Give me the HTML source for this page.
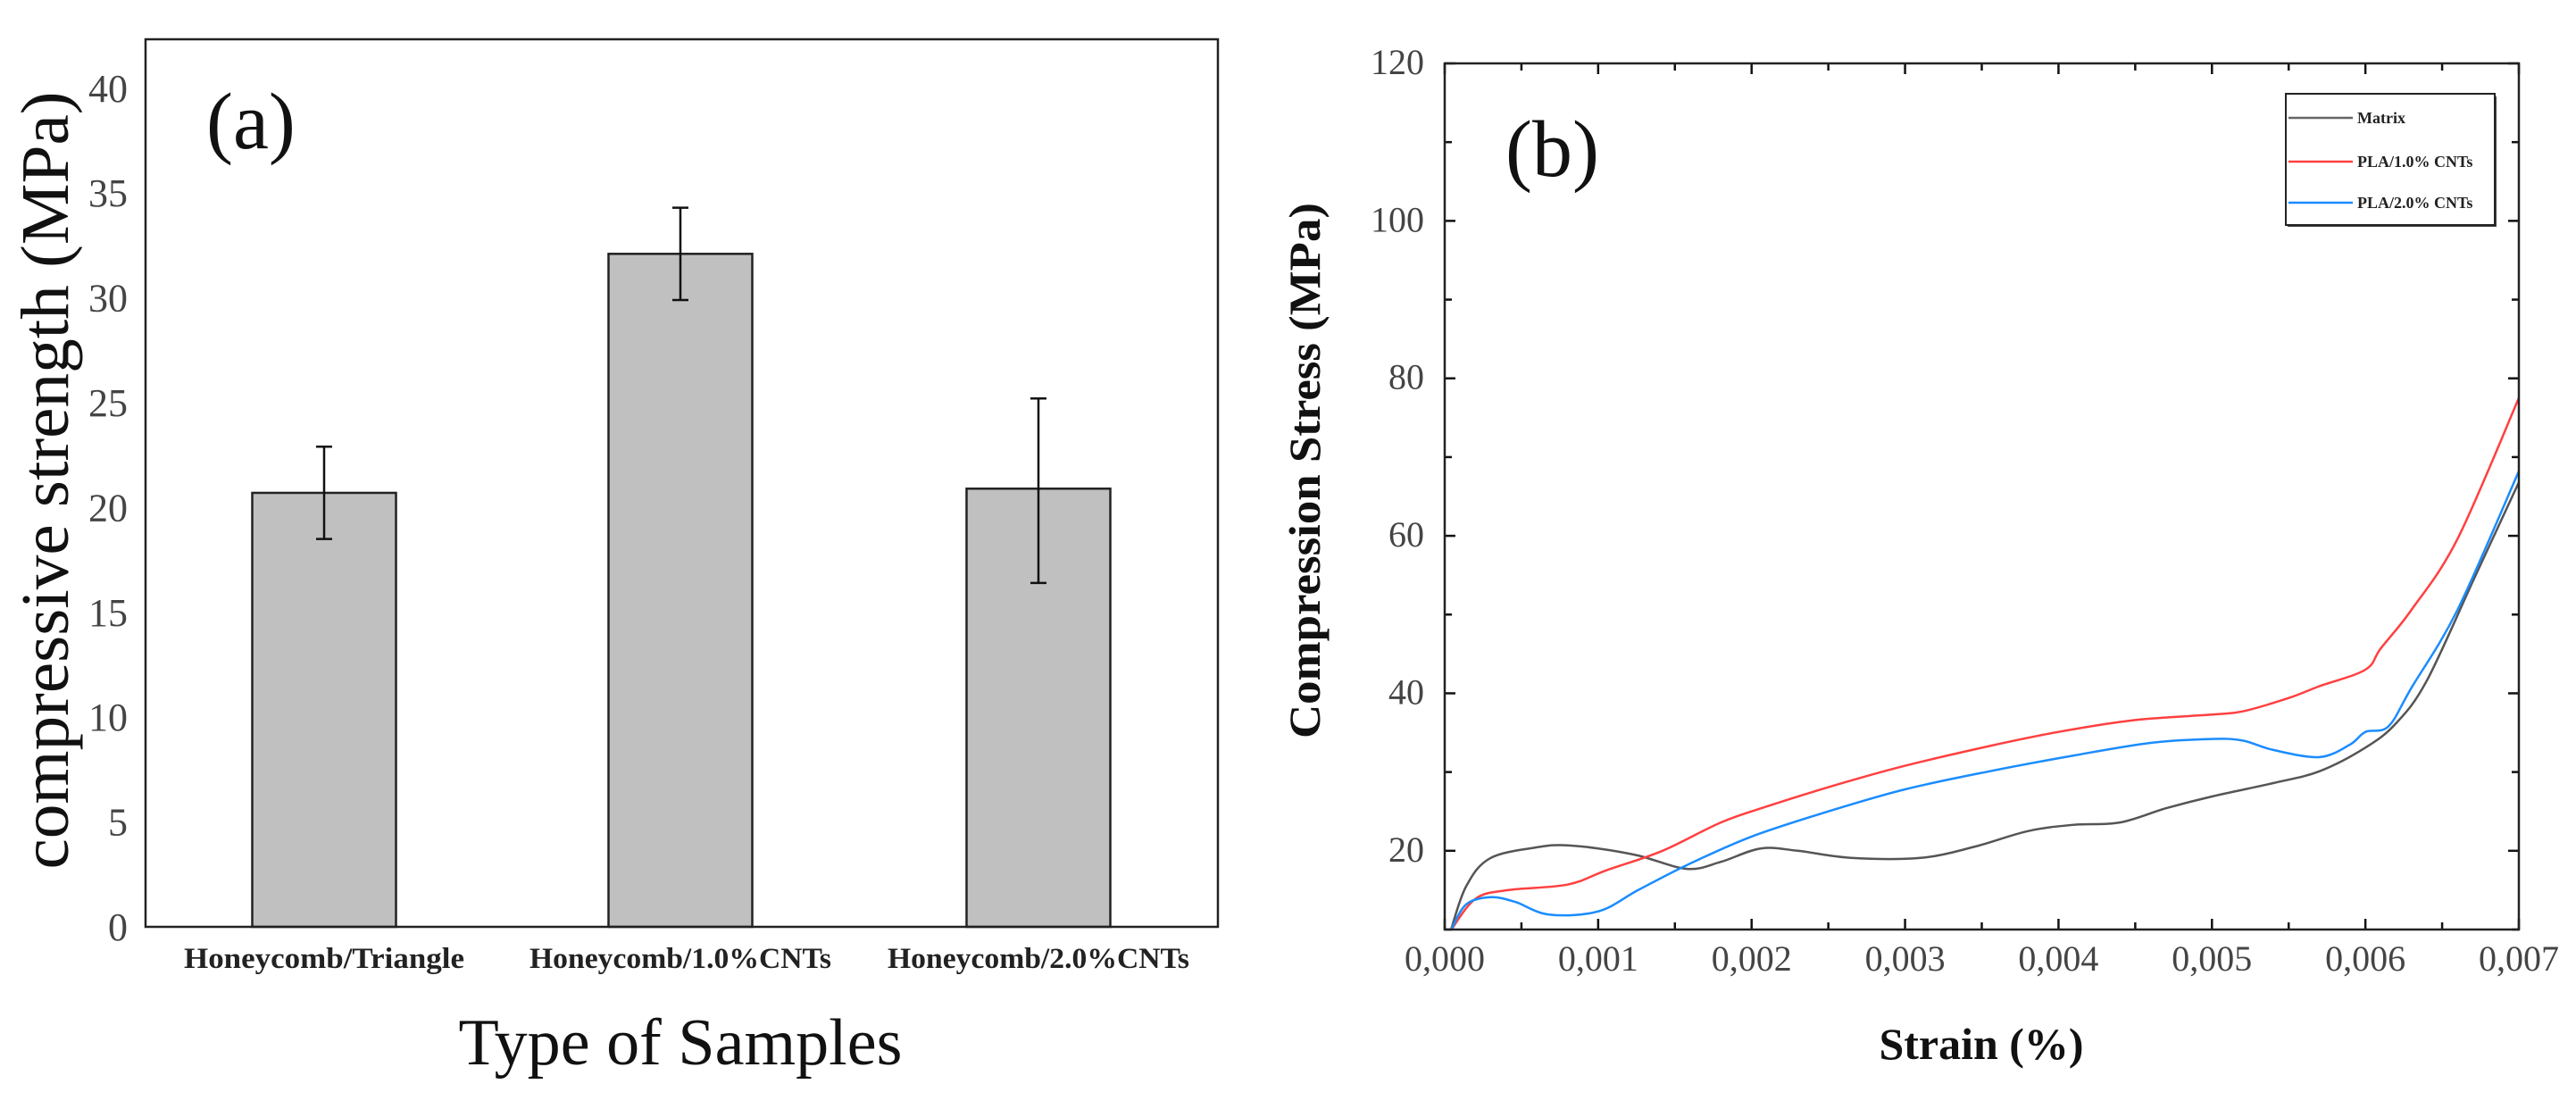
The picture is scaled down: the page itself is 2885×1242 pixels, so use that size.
<!DOCTYPE html>
<html><head><meta charset="utf-8"><style>
html,body{margin:0;padding:0;background:#fff;}
svg{display:block;font-family:"Liberation Serif",serif;}
</style></head><body>
<svg id="fig" width="2885" height="1242" viewBox="0 0 2885 1242" xmlns="http://www.w3.org/2000/svg">
<rect width="2885" height="1242" fill="#fff"/>
<g id="pa"></g>
<g id="pb"></g>
</svg>
<script>
// Panel (a) data
const catsA = ["Honeycomb/Triangle", "Honeycomb/1.0%CNTs", "Honeycomb/2.0%CNTs"];
const meansA = [20.7, 32.1, 20.9];
const errHiA = [22.9, 34.3, 25.2];
const errLoA = [18.5, 29.9, 16.4];
const ticksA = [0, 5, 10, 15, 20, 25, 30, 35, 40];
// Panel (b) data
const xTicksB = [0, 0.001, 0.002, 0.003, 0.004, 0.005, 0.006, 0.007];
const xTickLabelsB = ["0,000","0,001","0,002","0,003","0,004","0,005","0,006","0,007"];
const yTicksB = [20, 40, 60, 80, 100, 120];
const matrixX = [0.00004,0.00014,0.0003,0.00062,0.00078,0.001,0.00126,0.00158,0.0018,0.00206,0.0023,0.00265,0.0031,0.00345,0.0038,0.0041,0.0044,0.0047,0.005,0.0054,0.0057,0.006,0.0062,0.0064,0.0067,0.007];
const matrixY = [9.9,15.5,19.1,20.5,20.7,20.3,19.4,17.7,18.6,20.3,20,19.1,19.1,20.5,22.5,23.3,23.6,25.4,26.9,28.6,30.1,33.1,36.2,41.6,54.2,66.8];
const cnt1X = [0.00004,0.0002,0.00041,0.0008,0.00105,0.00142,0.0018,0.00211,0.00254,0.003,0.00355,0.004,0.0045,0.005,0.0052,0.0055,0.0057,0.006,0.0061,0.0063,0.0066,0.007];
const cnt1Y = [9.9,13.9,15,15.7,17.5,20,23.6,25.7,28.3,30.8,33.3,35.1,36.6,37.3,37.7,39.4,40.9,43,45.7,50.6,59.6,77.5];
const cnt2X = [0.00004,0.00014,0.0003,0.00046,0.00068,0.001,0.00126,0.00158,0.002,0.0025,0.003,0.00355,0.0041,0.0046,0.005,0.0052,0.0054,0.0057,0.0059,0.006,0.00615,0.0063,0.0066,0.007];
const cnt2Y = [9.9,13.2,14.1,13.5,11.9,12.3,15,18.2,21.8,25,27.8,30.1,32.1,33.7,34.2,34,32.8,31.9,33.5,35.1,35.8,40.7,50.6,68.2];
const legendB = ["Matrix", "PLA/1.0% CNTs", "PLA/2.0% CNTs"];

const NS = "http://www.w3.org/2000/svg";
function mk(parent, tag, attrs, text){
  const e = document.createElementNS(NS, tag);
  for (const k in attrs) e.setAttribute(k, attrs[k]);
  if (text !== undefined) e.textContent = text;
  parent.appendChild(e);
  return e;
}

// ---------- Panel A ----------
const pa = document.getElementById('pa');
const aL = 163, aR = 1364, aT = 44, aB = 1038;
const ya = v => aB - v * 23.48;
const barCenters = [363, 762, 1163];
const xa = i => barCenters[i];
ticksA.forEach(t => {
  const e = mk(pa, 'text', {x: 143, y: ya(t) + 15, 'text-anchor': 'end', 'font-size': 44, fill: '#444'}, String(t));
  
  
});
meansA.forEach((m, i) => {
  const r = mk(pa, 'rect', {x: xa(i) - 80.5, y: ya(m), width: 161, height: ya(0) - ya(m), fill: '#c0c0c0', stroke: '#222', 'stroke-width': 2.5});
  
  
  const g = mk(pa, 'g', {stroke: '#111', 'stroke-width': 2.5});
  
  
  mk(g, 'line', {x1: xa(i), x2: xa(i), y1: ya(errHiA[i]), y2: ya(errLoA[i])});
  mk(g, 'line', {x1: xa(i) - 9, x2: xa(i) + 9, y1: ya(errHiA[i]), y2: ya(errHiA[i])});
  mk(g, 'line', {x1: xa(i) - 9, x2: xa(i) + 9, y1: ya(errLoA[i]), y2: ya(errLoA[i])});
  const lw = [314, 338, 338][i];
  const t = mk(pa, 'text', {x: xa(i), y: 1084, 'text-anchor': 'middle', 'font-size': 33, 'font-weight': 'bold', fill: '#222', textLength: lw, lengthAdjust: 'spacingAndGlyphs'}, catsA[i]);
  
  
});
const fa = mk(pa, 'rect', {x: aL, y: aT, width: aR - aL, height: aB - aT, fill: 'none', stroke: '#222', 'stroke-width': 2.5});


const ta = mk(pa, 'text', {x: 231, y: 166, 'font-size': 90, fill: '#111'}, '(a)');


const xta = mk(pa, 'text', {x: 762, y: 1192, 'text-anchor': 'middle', 'font-size': 74, fill: '#111', textLength: 497, lengthAdjust: 'spacingAndGlyphs'}, 'Type of Samples');


const yta = mk(pa, 'text', {x: 0, y: 0, transform: 'translate(76,538) rotate(-90)', 'text-anchor': 'middle', 'font-size': 76, fill: '#111', textLength: 871, lengthAdjust: 'spacingAndGlyphs'}, 'compressive strength (MPa)');



// ---------- Panel B ----------
const pb = document.getElementById('pb');
const bL = 1618, bR = 2821, bT = 71, bB = 1041;
const xMin = 0, xMax = 0.007, yMin = 10, yMax = 120;
const xb = v => bL + (v - xMin) / (xMax - xMin) * (bR - bL);
const yb = v => bB - (v - yMin) / (yMax - yMin) * (bB - bT);
const tk = mk(pb, 'g', {stroke: '#111', 'stroke-width': 2.5});


xTicksB.forEach((t, i) => {
  mk(tk, 'line', {x1: xb(t), x2: xb(t), y1: bB, y2: bB - 12});
  mk(tk, 'line', {x1: xb(t), x2: xb(t), y1: bT, y2: bT + 12});
  if (i < xTicksB.length - 1) {
    const m = (t + xTicksB[i + 1]) / 2;
    mk(tk, 'line', {x1: xb(m), x2: xb(m), y1: bB, y2: bB - 8});
    mk(tk, 'line', {x1: xb(m), x2: xb(m), y1: bT, y2: bT + 8});
  }
  const e = mk(pb, 'text', {x: xb(t), y: 1087, 'text-anchor': 'middle', 'font-size': 40, fill: '#444'}, xTickLabelsB[i]);
  
  
});
yTicksB.forEach(t => {
  mk(tk, 'line', {x1: bL, x2: bL + 12, y1: yb(t), y2: yb(t)});
  mk(tk, 'line', {x1: bR, x2: bR - 12, y1: yb(t), y2: yb(t)});
  mk(tk, 'line', {x1: bL, x2: bL + 8, y1: yb(t - 10), y2: yb(t - 10)});
  mk(tk, 'line', {x1: bR, x2: bR - 8, y1: yb(t - 10), y2: yb(t - 10)});
  const e = mk(pb, 'text', {x: 1595, y: yb(t) + 12, 'text-anchor': 'end', 'font-size': 40, fill: '#444'}, String(t));
  
  
});
function series(xs, ys, color, name){
  const P = xs.map((x, i) => [xb(x), yb(ys[i])]);
  let d = 'M' + P[0][0].toFixed(1) + ',' + P[0][1].toFixed(1);
  for (let i = 0; i < P.length - 1; i++) {
    const p0 = P[Math.max(0, i - 1)], p1 = P[i], p2 = P[i + 1], p3 = P[Math.min(P.length - 1, i + 2)];
    const c1 = [p1[0] + (p2[0] - p0[0]) / 6, p1[1] + (p2[1] - p0[1]) / 6];
    const c2 = [p2[0] - (p3[0] - p1[0]) / 6, p2[1] - (p3[1] - p1[1]) / 6];
    d += ' C' + c1.map(v => v.toFixed(1)).join(',') + ' ' + c2.map(v => v.toFixed(1)).join(',') + ' ' + p2.map(v => v.toFixed(1)).join(',');
  }
  const p = mk(pb, 'path', {d: d, fill: 'none', stroke: color, 'stroke-width': 2.5, 'stroke-linejoin': 'round'});
  
  
}
series(matrixX, matrixY, '#555', 'line-matrix');
series(cnt1X, cnt1Y, '#ff4040', 'line-pla-1-cnts');
series(cnt2X, cnt2Y, '#1a8cff', 'line-pla-2-cnts');
const fb = mk(pb, 'rect', {x: bL, y: bT, width: bR - bL, height: bB - bT, fill: 'none', stroke: '#222', 'stroke-width': 2.5});


// legend
const lg = mk(pb, 'g', {});


mk(lg, 'rect', {x: 2562, y: 108, width: 234, height: 146, fill: '#444'});
mk(lg, 'rect', {x: 2560, y: 105, width: 234, height: 147, fill: '#fff', stroke: '#222', 'stroke-width': 2});
const lc = ['#666', '#ff4040', '#1a8cff'];
const ly = [132, 181, 227];
legendB.forEach((n, i) => {
  const l = mk(lg, 'line', {x1: 2563, x2: 2635, y1: ly[i], y2: ly[i], stroke: lc[i], 'stroke-width': 2.5});
  
  
  const t = mk(lg, 'text', {x: 2640, y: ly[i] + 6, 'font-size': 18, 'font-weight': 'bold', fill: '#222'}, n);
  
  
});
const tb = mk(pb, 'text', {x: 1686, y: 197, 'font-size': 90, fill: '#111'}, '(b)');


const xtb = mk(pb, 'text', {x: 2219, y: 1186, 'text-anchor': 'middle', 'font-size': 50, 'font-weight': 'bold', fill: '#111', textLength: 229, lengthAdjust: 'spacingAndGlyphs'}, 'Strain (%)');


const ytb = mk(pb, 'text', {x: 0, y: 0, transform: 'translate(1478,527) rotate(-90)', 'text-anchor': 'middle', 'font-size': 50, 'font-weight': 'bold', fill: '#111', textLength: 600, lengthAdjust: 'spacingAndGlyphs'}, 'Compression Stress (MPa)');


</script>
</body></html>
